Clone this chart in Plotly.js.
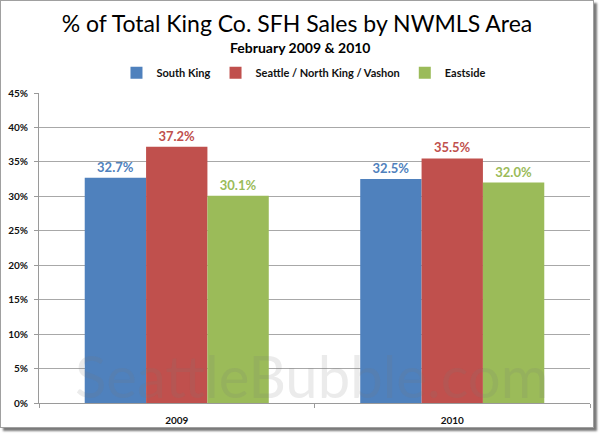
<!DOCTYPE html>
<html>
<head>
<meta charset="utf-8">
<script src="https://cdn.plot.ly/plotly-3.0.1.min.js"></script>
<style>
html,body{margin:0;padding:0;background:#fff;}
#chart{position:absolute;left:0;top:0;width:592px;height:426px;border:1px solid #a0a0a0;box-shadow:3px 3px 2px #7a7a7a;background:#fff;}
</style>
</head>
<body>
<div id="chart"></div>
<script>
const categories = ['2009', '2010'];
const seriesNames = ['South King', 'Seattle / North King / Vashon', 'Eastside'];
const southKing = [0.327, 0.325];
const seattleNorth = [0.372, 0.355];
const eastside = [0.301, 0.320];
const seriesColors = ['#4F81BD', '#C0504D', '#9BBB59'];
const yTickVals = [0, 0.05, 0.10, 0.15, 0.20, 0.25, 0.30, 0.35, 0.40, 0.45];
const titleText = '% of Total King Co. SFH Sales by NWMLS Area';
const subtitleText = 'February 2009 &amp; 2010';
const watermarkText = 'SeattleBubble.com';

const allValues = [southKing, seattleNorth, eastside];
const FONT = 'Lato, "Liberation Sans", Arial, sans-serif';

const traces = allValues.map((vals, i) => ({
  type: 'bar',
  name: seriesNames[i],
  x: categories,
  y: vals,
  marker: {color: seriesColors[i], line: {width: 0}},
  text: vals.map(v => (v * 100).toFixed(1) + '%'),
  textposition: 'outside',
  cliponaxis: false,
  textfont: {family: FONT, size: 13, color: seriesColors[i], weight: 'bold'},
  hoverinfo: 'skip'
}));

const layout = {
  width: 592,
  height: 426,
  margin: {l: 38, r: 3, t: 92, b: 24},
  paper_bgcolor: '#ffffff',
  plot_bgcolor: '#ffffff',
  font: {family: FONT, color: '#111'},
  barmode: 'group',
  bargap: 0.332,
  bargroupgap: 0,
  showlegend: true,
  title: {
    text: titleText,
    font: {family: FONT, size: 23, color: '#000'},
    x: 0.5, xref: 'container', xanchor: 'center',
    y: 0.947, yref: 'container', yanchor: 'middle'
  },
  legend: {
    orientation: 'h',
    x: 0.48, xanchor: 'center',
    y: 1.065, yanchor: 'middle',
    font: {family: FONT, size: 11, color: '#111', weight: 'bold'},
    itemwidth: 30,
    bgcolor: 'rgba(0,0,0,0)'
  },
  xaxis: {
    type: 'category',
    showgrid: false,
    showline: true,
    linecolor: '#9a9a9a',
    linewidth: 1,
    ticks: 'outside',
    tickson: 'boundaries',
    ticklen: 4,
    tickcolor: '#9a9a9a',
    tickfont: {family: FONT, size: 10, color: '#111', weight: 'bold'},
    ticklabelstandoff: 8,
    fixedrange: true
  },
  yaxis: {
    range: [0, 0.45],
    tickvals: yTickVals,
    tickformat: '.0%',
    showgrid: true,
    gridcolor: '#a8a8a8',
    gridwidth: 1,
    showline: true,
    linecolor: '#9a9a9a',
    linewidth: 1,
    ticks: 'outside',
    ticklen: 4,
    tickcolor: '#9a9a9a',
    tickfont: {family: FONT, size: 10, color: '#111', weight: 'bold'},
    ticklabelstandoff: 4,
    zeroline: false,
    fixedrange: true
  },
  annotations: [
    {
      text: subtitleText,
      xref: 'paper', yref: 'paper',
      x: 0.475, y: 1.148, xanchor: 'center', yanchor: 'middle',
      showarrow: false,
      font: {family: FONT, size: 14, color: '#000', weight: 'bold'}
    },
    {
      text: watermarkText,
      xref: 'paper', yref: 'paper',
      x: 0.494, y: 0.088, xanchor: 'center', yanchor: 'middle',
      showarrow: false,
      font: {family: FONT, size: 58, color: 'rgba(120,120,120,0.15)'}
    }
  ]
};

Plotly.newPlot('chart', traces, layout, {displayModeBar: false, staticPlot: true});
</script>
</body>
</html>
